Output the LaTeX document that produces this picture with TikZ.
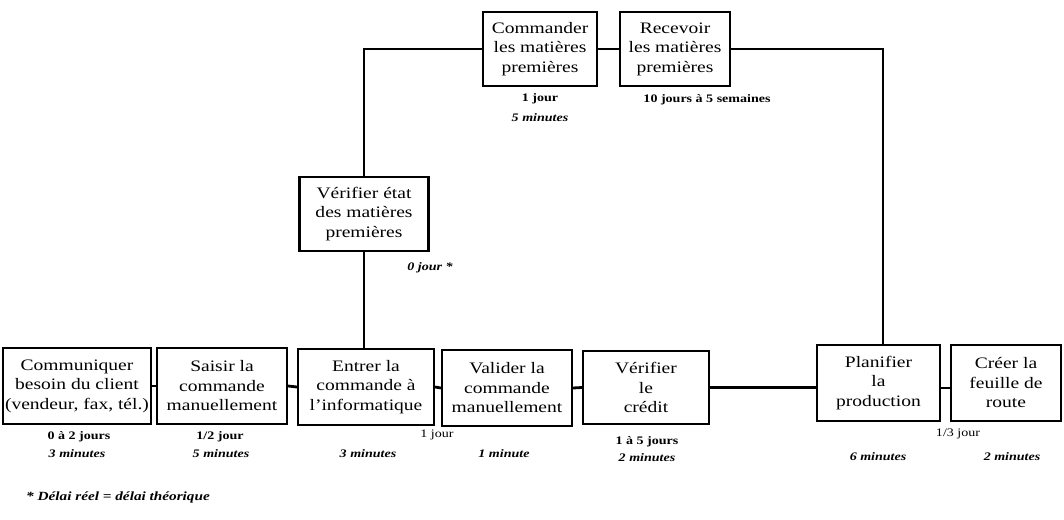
\documentclass[tikz,border=0pt]{standalone}
\usepackage{fontspec}
\setmainfont{Liberation Serif}[FakeStretch=1.22]
\begin{document}
\begin{tikzpicture}[x=1pt,y=-1pt,
  box/.style={draw,line width=2.2pt,align=center,inner sep=2pt,
    font=\fontsize{16}{19.5}\selectfont},
  link/.style={line width=2.8pt},
  days/.style={font=\fontsize{11.5}{13}\selectfont\bfseries,inner sep=0pt},
  daysr/.style={font=\fontsize{11.5}{13}\selectfont,inner sep=0pt},
  mins/.style={font=\fontsize{11.5}{13}\selectfont\bfseries\itshape,inner sep=0pt}]
\useasboundingbox (0,0) rectangle (1064,519);

% process steps, bottom row
\node[box,minimum width=138pt,minimum height=76pt] (b1) at (77,386) {Communiquer\\besoin du client\\(vendeur, fax, tél.)};
\node[box,minimum width=130pt,minimum height=76pt] (b2) at (222,386) {Saisir la\\commande\\manuellement};
\node[box,minimum width=136pt,minimum height=76pt] (b3) at (366,387) {Entrer la\\commande à\\l'informatique};
\node[box,minimum width=130pt,minimum height=76pt] (b4) at (507,388) {Valider la\\commande\\manuellement};
\node[box,minimum width=126pt,minimum height=73pt] (b5) at (646,387.5) {Vérifier\\le\\crédit};
\node[box,minimum width=123pt,minimum height=76pt] (b6) at (878.5,383) {Planifier\\la\\production};
\node[box,minimum width=110pt,minimum height=76pt] (b7) at (1006,383) {Créer la\\feuille de\\route};

% raw-material branch
\node[box,minimum width=129pt,minimum height=74pt] (ve) at (364,214) {Vérifier état\\des matières\\premières};
\node[box,minimum width=114pt,minimum height=74pt] (cm) at (540,49) {Commander\\les matières\\premières};
\node[box,minimum width=110pt,minimum height=74pt] (rc) at (675,49) {Recevoir\\les matières\\premières};

% connectors
\draw[link] (b1.east) -- (b2.west);
\draw[link] (b2.east) -- (b3.west);
\draw[link] (b3.east) -- (b4.west);
\draw[link] (b4.east) -- (b5.west);
\draw[link] (b5.east) -- (b5.east -| b6.west);
\coordinate (j67) at (940,388);
\draw[link] (b6.east |- j67) -- (b7.west |- j67);
\draw[link] (ve.south) -- (ve.south |- b3.north);
\draw[link] (ve.north) |- (cm.west);
\draw[link] (cm.east) -- (rc.west);
\coordinate (pt) at (883,0);
\draw[link] (rc.east) -| (pt |- b6.north);

% delays
\node[days] (l1a) at (79,437) {0 à 2 jours};
\node[mins] (l1b) at (77,454) {3 minutes};
\node[days] (l2a) at (220,437) {1/2 jour};
\node[mins] (l2b) at (221,454) {5 minutes};
\node[daysr] (l3a) at (437,435) {1 jour};
\node[mins] (l3b) at (368,454) {3 minutes};
\node[mins] (l4b) at (504,454) {1 minute};
\node[days] (l5a) at (647,442) {1 à 5 jours};
\node[mins] (l5b) at (647,458) {2 minutes};
\node[daysr] (l6a) at (958,434) {1/3 jour};
\node[mins] (l6b) at (878,457) {6 minutes};
\node[mins] (l7b) at (1012,457) {2 minutes};
\node[days] (lca) at (540,99) {1 jour};
\node[mins] (lcb) at (540,118) {5 minutes};
\node[days] (lra) at (707,100) {10 jours à 5 semaines};
\node[mins] (lve) at (430,268) {0 jour *};

% footnote
\node[anchor=west,inner sep=0pt,font=\fontsize{12.5}{14}\selectfont\bfseries\itshape] (fn) at (26,497) {* Délai réel = délai théorique};
\end{tikzpicture}
\end{document}
